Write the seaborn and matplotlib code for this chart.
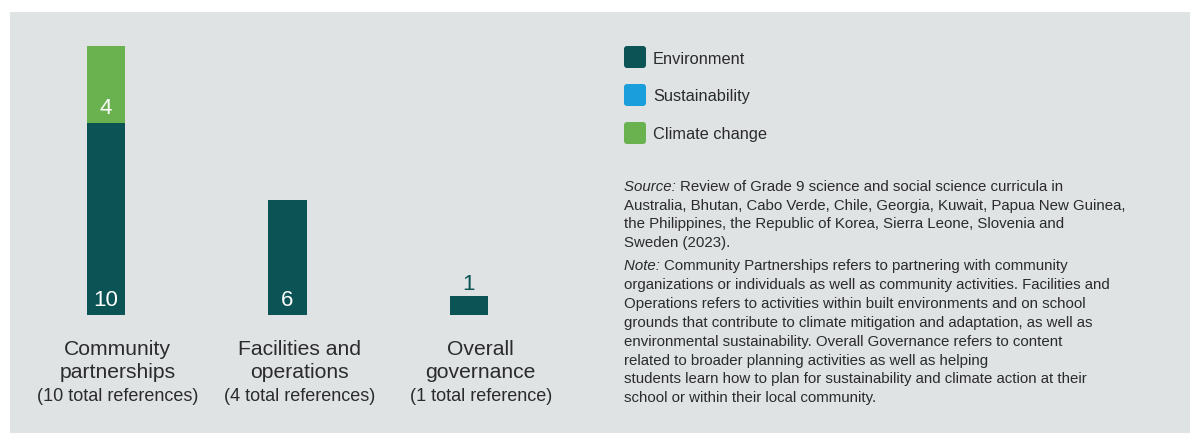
import numpy as np
import pandas as pd
import matplotlib
matplotlib.use("Agg")
import matplotlib.pyplot as plt
import matplotlib.transforms as mtransforms
from matplotlib.patches import Rectangle, FancyBboxPatch
import seaborn as sns

# ---------------- data ----------------
categories = ["Community partnerships", "Facilities and operations", "Overall governance"]
cat_line1 = ["Community", "Facilities and", "Overall"]
cat_line2 = ["partnerships", "operations", "governance"]
cat_line3 = ["(10 total references)", "(4 total references)", "(1 total reference)"]
environment = [10, 6, 1]
sustainability = [0, 0, 0]
climate_change = [4, 0, 0]
series_names = ["Environment", "Sustainability", "Climate change"]

source_lines = [
    "Review of Grade 9 science and social science curricula in",
    "Australia, Bhutan, Cabo Verde, Chile, Georgia, Kuwait, Papua New Guinea,",
    "the Philippines, the Republic of Korea, Sierra Leone, Slovenia and",
    "Sweden (2023).",
]
note_lines = [
    "Community Partnerships refers to partnering with community",
    "organizations or individuals as well as community activities. Facilities and",
    "Operations refers to activities within built environments and on school",
    "grounds that contribute to climate mitigation and adaptation, as well as",
    "environmental sustainability. Overall Governance refers to content",
    "related to broader planning activities as well as helping",
    "students learn how to plan for sustainability and climate action at their",
    "school or within their local community.",
]

# ---------------- style ----------------
C_ENV = "#0b5354"
C_SUS = "#1b9fdc"
C_CLI = "#6ab150"
colors = [C_ENV, C_SUS, C_CLI]
BG = "#dfe3e4"
TXT = "#2b2b2b"

plt.rcParams["font.family"] = ["Liberation Sans", "DejaVu Sans"]

W, H = 1190, 433
fig = plt.figure(figsize=(W / 100, H / 100), dpi=100, facecolor="white")


def fx(x):
    return x / W


def fy(y):
    return 1 - y / H


# gray panel
fig.patches.append(Rectangle((fx(10), 0), 1 - fx(10), fy(12), transform=fig.transFigure,
                             facecolor=BG, edgecolor="none", zorder=-10))

# axes: bottom at y=315px, top at 27px; x from 15 to 560 px
ax = fig.add_axes([fx(15.25), fy(315), fx(559.75) - fx(15.25), fy(27) - fy(315)])
ax.set_facecolor("none")

df = pd.DataFrame({
    "category": categories,
    "environment": environment,
    "sustainability": sustainability,
    "climate": climate_change,
})
df["env_sus"] = df["environment"] + df["sustainability"]
df["total"] = df["env_sus"] + df["climate"]

bw = 0.21
sns.barplot(data=df, x="category", y="total", color=C_CLI, saturation=1, width=bw, ax=ax)
sns.barplot(data=df, x="category", y="env_sus", color=C_SUS, saturation=1, width=bw, ax=ax)
sns.barplot(data=df, x="category", y="environment", color=C_ENV, saturation=1, width=bw, ax=ax)

ax.set_xlim(-0.5, 2.5)
ax.set_ylim(0, 15)
for s in ax.spines.values():
    s.set_visible(False)
ax.set_xticks([])
ax.set_yticks([])
ax.set_xlabel("")
ax.set_ylabel("")

# value labels
for i in range(len(categories)):
    segs = [(environment[i], 0), (sustainability[i], environment[i]),
            (climate_change[i], environment[i] + sustainability[i])]
    for v, base in segs:
        if v <= 0:
            continue
        if v >= 2:
            ax.annotate(str(v), xy=(i, base), xytext=(0, 8.5), textcoords="offset pixels",
                        ha="center", va="baseline", color="white", fontsize=16)
        else:
            ax.annotate(str(v), xy=(i, base + v), xytext=(0, 6), textcoords="offset pixels",
                        ha="center", va="baseline", color=C_ENV, fontsize=16)

# category labels
blend = mtransforms.blended_transform_factory(ax.transData, fig.transFigure)
for i in range(len(categories)):
    xl = i + 0.065
    ax.text(xl, fy(355), cat_line1[i], transform=blend, ha="center", va="baseline",
            fontsize=15.2, color=TXT)
    ax.text(xl, fy(378), cat_line2[i], transform=blend, ha="center", va="baseline",
            fontsize=15.2, color=TXT)
    ax.text(xl, fy(401), cat_line3[i], transform=blend, ha="center", va="baseline",
            fontsize=13, color=TXT)

# legend
for k, (name, col) in enumerate(zip(series_names, colors)):
    cy = 57 + 38 * k
    sq = 22
    fig.patches.append(FancyBboxPatch((624, H - cy - sq / 2), sq, sq,
                                      boxstyle="round,pad=0,rounding_size=3",
                                      transform=mtransforms.IdentityTransform(),
                                      facecolor=col, edgecolor="none", zorder=5))
    fig.text(fx(653), fy(cy + 6.5), name, ha="left", va="baseline", fontsize=11.8, color=TXT)

# source and note text
renderer = fig.canvas.get_renderer()
BODY = 10.8
LS = 18.85


def para(label, lines, y0):
    t = fig.text(fx(624), fy(y0), label + " ", ha="left", va="baseline", fontsize=BODY,
                 style="italic", color=TXT)
    bb = t.get_window_extent(renderer=renderer)
    fig.text(bb.x1 / W, fy(y0), lines[0], ha="left", va="baseline", fontsize=BODY, color=TXT)
    for j, line in enumerate(lines[1:], start=1):
        fig.text(fx(624), fy(y0 + LS * j), line, ha="left", va="baseline", fontsize=BODY,
                 color=TXT)


para("Source:", source_lines, 190.7)
para("Note:", note_lines, 270.3)

fig.savefig("out.png", dpi=100, facecolor="white")
